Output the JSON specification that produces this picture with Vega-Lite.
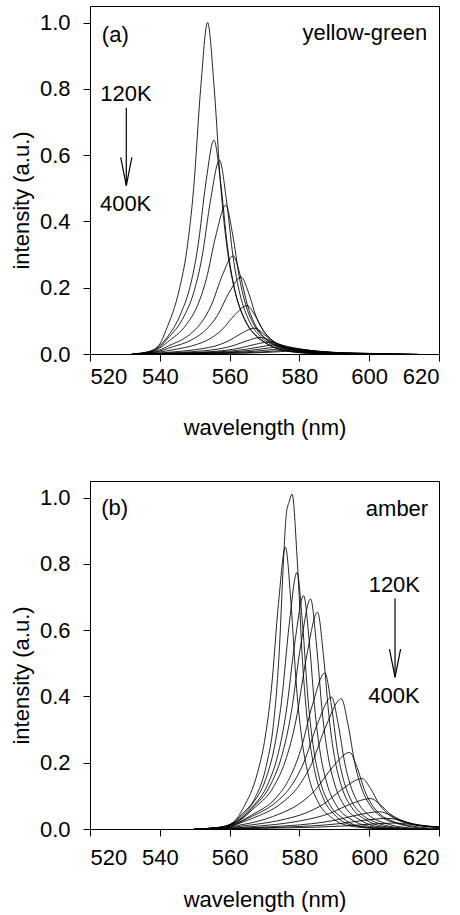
{
  "$schema": "https://vega.github.io/schema/vega-lite/v6.json",
  "padding": {"left": 9, "top": 5, "right": 5, "bottom": 5},
  "spacing": 41,
  "config": {
    "font": "Liberation Sans",
    "view": {"stroke": "black", "strokeWidth": 1},
    "axis": {"labelFont": "Liberation Sans", "titleFont": "Liberation Sans", "labelFontSize": 22, "titleFontSize": 22, "titleFontWeight": "normal", "labelColor": "black", "titleColor": "black", "domainColor": "black", "tickColor": "black", "tickSize": 7, "grid": false}
  },
  "datasets": {
    "a": [
      {"c":1,"x":532,"y":0},{"c":1,"x":537,"y":0.008},{"c":1,"x":540,"y":0.03},{"c":1,"x":541.7,"y":0.07},{"c":1,"x":545.7,"y":0.2},{"c":1,"x":547.7,"y":0.31},{"c":1,"x":549.7,"y":0.5},{"c":1,"x":551.7,"y":0.8},{"c":1,"x":553.7,"y":1},{"c":1,"x":555.6,"y":0.8},{"c":1,"x":557.5,"y":0.5},{"c":1,"x":559.4,"y":0.31},{"c":1,"x":561.3,"y":0.2},{"c":1,"x":565.1,"y":0.09},{"c":1,"x":568.9,"y":0.045},{"c":1,"x":575,"y":0.012},{"c":1,"x":585,"y":0},
      {"c":2,"x":532,"y":0},{"c":2,"x":537,"y":0.007},{"c":2,"x":540,"y":0.025},{"c":2,"x":541.7,"y":0.045},{"c":2,"x":546.3,"y":0.129},{"c":2,"x":548.6,"y":0.2},{"c":2,"x":550.9,"y":0.323},{"c":2,"x":553.2,"y":0.516},{"c":2,"x":555.5,"y":0.645},{"c":2,"x":557.45,"y":0.516},{"c":2,"x":559.4,"y":0.323},{"c":2,"x":561.35,"y":0.2},{"c":2,"x":563.3,"y":0.129},{"c":2,"x":567.2,"y":0.058},{"c":2,"x":571.1,"y":0.029},{"c":2,"x":577,"y":0.008},{"c":2,"x":588,"y":0},
      {"c":3,"x":532,"y":0},{"c":3,"x":537,"y":0.006},{"c":3,"x":540,"y":0.022},{"c":3,"x":542.1,"y":0.045},{"c":3,"x":547.1,"y":0.117},{"c":3,"x":549.6,"y":0.181},{"c":3,"x":552.1,"y":0.293},{"c":3,"x":554.6,"y":0.468},{"c":3,"x":557.1,"y":0.585},{"c":3,"x":559.05,"y":0.468},{"c":3,"x":561,"y":0.293},{"c":3,"x":562.95,"y":0.181},{"c":3,"x":564.9,"y":0.117},{"c":3,"x":568.8,"y":0.053},{"c":3,"x":572.7,"y":0.026},{"c":3,"x":579,"y":0.007},{"c":3,"x":590,"y":0},
      {"c":4,"x":532,"y":0},{"c":4,"x":537,"y":0.005},{"c":4,"x":540,"y":0.018},{"c":4,"x":542.1,"y":0.035},{"c":4,"x":547.7,"y":0.09},{"c":4,"x":550.5,"y":0.139},{"c":4,"x":553.3,"y":0.225},{"c":4,"x":556.1,"y":0.359},{"c":4,"x":558.9,"y":0.449},{"c":4,"x":560.9,"y":0.359},{"c":4,"x":562.9,"y":0.225},{"c":4,"x":564.9,"y":0.139},{"c":4,"x":566.9,"y":0.09},{"c":4,"x":570.9,"y":0.04},{"c":4,"x":574.9,"y":0.02},{"c":4,"x":581,"y":0.006},{"c":4,"x":591,"y":0},
      {"c":5,"x":532,"y":0},{"c":5,"x":537,"y":0.004},{"c":5,"x":540,"y":0.012},{"c":5,"x":542.4,"y":0.024},{"c":5,"x":548.6,"y":0.059},{"c":5,"x":551.7,"y":0.092},{"c":5,"x":554.8,"y":0.148},{"c":5,"x":557.9,"y":0.237},{"c":5,"x":561,"y":0.296},{"c":5,"x":563.05,"y":0.237},{"c":5,"x":565.1,"y":0.148},{"c":5,"x":567.15,"y":0.092},{"c":5,"x":569.2,"y":0.059},{"c":5,"x":573.3,"y":0.027},{"c":5,"x":577.4,"y":0.013},{"c":5,"x":584,"y":0.004},{"c":5,"x":593,"y":0},
      {"c":6,"x":532,"y":0},{"c":6,"x":537,"y":0.003},{"c":6,"x":540,"y":0.009},{"c":6,"x":542.9,"y":0.019},{"c":6,"x":549.7,"y":0.046},{"c":6,"x":553.1,"y":0.072},{"c":6,"x":556.5,"y":0.116},{"c":6,"x":559.9,"y":0.186},{"c":6,"x":563.3,"y":0.232},{"c":6,"x":565.4,"y":0.186},{"c":6,"x":567.5,"y":0.116},{"c":6,"x":569.6,"y":0.072},{"c":6,"x":571.7,"y":0.046},{"c":6,"x":575.9,"y":0.021},{"c":6,"x":580.1,"y":0.01},{"c":6,"x":587,"y":0.003},{"c":6,"x":595,"y":0},
      {"c":7,"x":532,"y":0},{"c":7,"x":536,"y":0.002},{"c":7,"x":540,"y":0.006},{"c":7,"x":543.4,"y":0.012},{"c":7,"x":550.6,"y":0.029},{"c":7,"x":554.2,"y":0.045},{"c":7,"x":557.8,"y":0.073},{"c":7,"x":561.4,"y":0.117},{"c":7,"x":565,"y":0.146},{"c":7,"x":567.25,"y":0.117},{"c":7,"x":569.5,"y":0.073},{"c":7,"x":571.75,"y":0.045},{"c":7,"x":574,"y":0.029},{"c":7,"x":578.5,"y":0.013},{"c":7,"x":583,"y":0.0066},{"c":7,"x":590,"y":0.002},{"c":7,"x":597,"y":0},
      {"c":8,"x":535,"y":0},{"c":8,"x":540,"y":0.003},{"c":8,"x":544.6,"y":0.007},{"c":8,"x":552.1,"y":0.016},{"c":8,"x":555.85,"y":0.024},{"c":8,"x":559.6,"y":0.039},{"c":8,"x":563.35,"y":0.062},{"c":8,"x":567.1,"y":0.078},{"c":8,"x":569.6,"y":0.062},{"c":8,"x":572.1,"y":0.039},{"c":8,"x":574.6,"y":0.024},{"c":8,"x":577.1,"y":0.016},{"c":8,"x":582.1,"y":0.007},{"c":8,"x":587.1,"y":0.0035},{"c":8,"x":597,"y":0},
      {"c":9,"x":535,"y":0},{"c":9,"x":540,"y":0.002},{"c":9,"x":545,"y":0.0045},{"c":9,"x":553,"y":0.01},{"c":9,"x":557,"y":0.0155},{"c":9,"x":561,"y":0.025},{"c":9,"x":565,"y":0.04},{"c":9,"x":569,"y":0.05},{"c":9,"x":571.75,"y":0.04},{"c":9,"x":574.5,"y":0.025},{"c":9,"x":577.25,"y":0.0155},{"c":9,"x":580,"y":0.01},{"c":9,"x":585.5,"y":0.0045},{"c":9,"x":591,"y":0.002},{"c":9,"x":600,"y":0},
      {"c":10,"x":535,"y":0},{"c":10,"x":540,"y":0.001},{"c":10,"x":546,"y":0.003},{"c":10,"x":554.5,"y":0.007},{"c":10,"x":558.75,"y":0.011},{"c":10,"x":563,"y":0.018},{"c":10,"x":567.25,"y":0.029},{"c":10,"x":571.5,"y":0.036},{"c":10,"x":574.5,"y":0.029},{"c":10,"x":577.5,"y":0.018},{"c":10,"x":580.5,"y":0.011},{"c":10,"x":583.5,"y":0.007},{"c":10,"x":589.5,"y":0.003},{"c":10,"x":595.5,"y":0.0015},{"c":10,"x":603,"y":0},
      {"c":11,"x":535,"y":0},{"c":11,"x":540,"y":0.001},{"c":11,"x":546.5,"y":0.0025},{"c":11,"x":555.5,"y":0.0056},{"c":11,"x":560,"y":0.0087},{"c":11,"x":564.5,"y":0.014},{"c":11,"x":569,"y":0.022},{"c":11,"x":573.5,"y":0.028},{"c":11,"x":576.75,"y":0.022},{"c":11,"x":580,"y":0.014},{"c":11,"x":583.25,"y":0.0087},{"c":11,"x":586.5,"y":0.0056},{"c":11,"x":593,"y":0.0025},{"c":11,"x":600,"y":0.001},{"c":11,"x":605,"y":0},
      {"c":12,"x":535,"y":0},{"c":12,"x":540,"y":0.0008},{"c":12,"x":547,"y":0.002},{"c":12,"x":556.5,"y":0.0044},{"c":12,"x":561.25,"y":0.0068},{"c":12,"x":566,"y":0.011},{"c":12,"x":570.75,"y":0.0176},{"c":12,"x":575.5,"y":0.022},{"c":12,"x":579,"y":0.0176},{"c":12,"x":582.5,"y":0.011},{"c":12,"x":586,"y":0.0068},{"c":12,"x":589.5,"y":0.0044},{"c":12,"x":596.5,"y":0.002},{"c":12,"x":603,"y":0.0008},{"c":12,"x":607,"y":0},
      {"c":13,"x":535,"y":0},{"c":13,"x":540,"y":0.0006},{"c":13,"x":547.5,"y":0.0015},{"c":13,"x":557.5,"y":0.0034},{"c":13,"x":562.5,"y":0.0053},{"c":13,"x":567.5,"y":0.0085},{"c":13,"x":572.5,"y":0.0136},{"c":13,"x":577.5,"y":0.017},{"c":13,"x":581.25,"y":0.0136},{"c":13,"x":585,"y":0.0085},{"c":13,"x":588.75,"y":0.0053},{"c":13,"x":592.5,"y":0.0034},{"c":13,"x":600,"y":0.0015},{"c":13,"x":606,"y":0.0005},{"c":13,"x":610,"y":0},
      {"c":14,"x":535,"y":0},{"c":14,"x":540,"y":0.0004},{"c":14,"x":549.5,"y":0.0012},{"c":14,"x":559.5,"y":0.0026},{"c":14,"x":564.5,"y":0.004},{"c":14,"x":569.5,"y":0.0065},{"c":14,"x":574.5,"y":0.0104},{"c":14,"x":579.5,"y":0.013},{"c":14,"x":583.5,"y":0.0104},{"c":14,"x":587.5,"y":0.0065},{"c":14,"x":591.5,"y":0.004},{"c":14,"x":595.5,"y":0.0026},{"c":14,"x":603.5,"y":0.0012},{"c":14,"x":608,"y":0.0004},{"c":14,"x":612,"y":0},
      {"c":15,"x":535,"y":0},{"c":15,"x":540,"y":0.0003},{"c":15,"x":551,"y":0.0009},{"c":15,"x":561,"y":0.002},{"c":15,"x":566,"y":0.0031},{"c":15,"x":571,"y":0.005},{"c":15,"x":576,"y":0.008},{"c":15,"x":581,"y":0.01},{"c":15,"x":585,"y":0.008},{"c":15,"x":589,"y":0.005},{"c":15,"x":593,"y":0.0031},{"c":15,"x":597,"y":0.002},{"c":15,"x":605,"y":0.0009},{"c":15,"x":610,"y":0.0003},{"c":15,"x":614,"y":0}
    ],
    "b": [
      {"c":1,"x":550,"y":0},{"c":1,"x":557,"y":0.005},{"c":1,"x":561,"y":0.018},{"c":1,"x":563.5,"y":0.045},{"c":1,"x":567.1,"y":0.09},{"c":1,"x":570.7,"y":0.2},{"c":1,"x":572.5,"y":0.31},{"c":1,"x":574.3,"y":0.55},{"c":1,"x":575.3,"y":0.78},{"c":1,"x":576.3,"y":0.955},{"c":1,"x":577,"y":0.985},{"c":1,"x":577.9,"y":1.01},{"c":1,"x":579.4,"y":0.808},{"c":1,"x":580.9,"y":0.505},{"c":1,"x":582.4,"y":0.313},{"c":1,"x":583.9,"y":0.202},{"c":1,"x":586.9,"y":0.091},{"c":1,"x":589.9,"y":0.045},{"c":1,"x":595,"y":0.012},{"c":1,"x":605,"y":0},
      {"c":2,"x":550,"y":0},{"c":2,"x":557,"y":0.005},{"c":2,"x":561,"y":0.02},{"c":2,"x":564,"y":0.065},{"c":2,"x":568,"y":0.17},{"c":2,"x":570,"y":0.264},{"c":2,"x":572,"y":0.425},{"c":2,"x":574,"y":0.68},{"c":2,"x":576,"y":0.85},{"c":2,"x":577.6,"y":0.68},{"c":2,"x":579.2,"y":0.425},{"c":2,"x":580.8,"y":0.264},{"c":2,"x":582.4,"y":0.17},{"c":2,"x":585.6,"y":0.0765},{"c":2,"x":588.8,"y":0.038},{"c":2,"x":594,"y":0.01},{"c":2,"x":604,"y":0},
      {"c":3,"x":550,"y":0},{"c":3,"x":557,"y":0.005},{"c":3,"x":561,"y":0.018},{"c":3,"x":563,"y":0.035},{"c":3,"x":566.1,"y":0.07},{"c":3,"x":570.5,"y":0.155},{"c":3,"x":572.7,"y":0.24},{"c":3,"x":574.9,"y":0.387},{"c":3,"x":577.1,"y":0.619},{"c":3,"x":579.3,"y":0.774},{"c":3,"x":580.9,"y":0.619},{"c":3,"x":582.5,"y":0.387},{"c":3,"x":584.1,"y":0.24},{"c":3,"x":585.7,"y":0.155},{"c":3,"x":588.9,"y":0.07},{"c":3,"x":592.1,"y":0.035},{"c":3,"x":597,"y":0.009},{"c":3,"x":607,"y":0},
      {"c":4,"x":550,"y":0},{"c":4,"x":557,"y":0.004},{"c":4,"x":561,"y":0.016},{"c":4,"x":563,"y":0.03},{"c":4,"x":566.2,"y":0.063},{"c":4,"x":571.2,"y":0.141},{"c":4,"x":573.7,"y":0.218},{"c":4,"x":576.2,"y":0.352},{"c":4,"x":578.7,"y":0.563},{"c":4,"x":581.2,"y":0.704},{"c":4,"x":582.85,"y":0.563},{"c":4,"x":584.5,"y":0.352},{"c":4,"x":586.15,"y":0.218},{"c":4,"x":587.8,"y":0.141},{"c":4,"x":591.1,"y":0.063},{"c":4,"x":594.4,"y":0.032},{"c":4,"x":600,"y":0.008},{"c":4,"x":609,"y":0},
      {"c":5,"x":550,"y":0},{"c":5,"x":557,"y":0.004},{"c":5,"x":561,"y":0.015},{"c":5,"x":563,"y":0.028},{"c":5,"x":566.4,"y":0.062},{"c":5,"x":572,"y":0.139},{"c":5,"x":574.8,"y":0.215},{"c":5,"x":577.6,"y":0.347},{"c":5,"x":580.4,"y":0.555},{"c":5,"x":583.2,"y":0.694},{"c":5,"x":584.9,"y":0.555},{"c":5,"x":586.6,"y":0.347},{"c":5,"x":588.3,"y":0.215},{"c":5,"x":590,"y":0.139},{"c":5,"x":593.4,"y":0.062},{"c":5,"x":596.8,"y":0.031},{"c":5,"x":602,"y":0.008},{"c":5,"x":611,"y":0},
      {"c":6,"x":550,"y":0},{"c":6,"x":557,"y":0.004},{"c":6,"x":561,"y":0.014},{"c":6,"x":563,"y":0.026},{"c":6,"x":566.6,"y":0.059},{"c":6,"x":572.8,"y":0.131},{"c":6,"x":575.9,"y":0.203},{"c":6,"x":579,"y":0.327},{"c":6,"x":582.1,"y":0.523},{"c":6,"x":585.2,"y":0.654},{"c":6,"x":586.9,"y":0.523},{"c":6,"x":588.6,"y":0.327},{"c":6,"x":590.3,"y":0.203},{"c":6,"x":592,"y":0.131},{"c":6,"x":595.4,"y":0.059},{"c":6,"x":598.8,"y":0.029},{"c":6,"x":604,"y":0.008},{"c":6,"x":613,"y":0},
      {"c":7,"x":550,"y":0},{"c":7,"x":557,"y":0.003},{"c":7,"x":561,"y":0.012},{"c":7,"x":563,"y":0.022},{"c":7,"x":566.3,"y":0.042},{"c":7,"x":573.3,"y":0.094},{"c":7,"x":576.8,"y":0.146},{"c":7,"x":580.3,"y":0.236},{"c":7,"x":583.8,"y":0.377},{"c":7,"x":587.3,"y":0.471},{"c":7,"x":589.1,"y":0.377},{"c":7,"x":590.9,"y":0.236},{"c":7,"x":592.7,"y":0.146},{"c":7,"x":594.5,"y":0.094},{"c":7,"x":598.1,"y":0.042},{"c":7,"x":601.7,"y":0.021},{"c":7,"x":607,"y":0.006},{"c":7,"x":615,"y":0},
      {"c":8,"x":550,"y":0},{"c":8,"x":557,"y":0.003},{"c":8,"x":561,"y":0.011},{"c":8,"x":563,"y":0.02},{"c":8,"x":565.2,"y":0.032},{"c":8,"x":573.2,"y":0.08},{"c":8,"x":577.2,"y":0.123},{"c":8,"x":581.2,"y":0.199},{"c":8,"x":585.2,"y":0.318},{"c":8,"x":589.2,"y":0.398},{"c":8,"x":591.1,"y":0.318},{"c":8,"x":593,"y":0.199},{"c":8,"x":594.9,"y":0.123},{"c":8,"x":596.8,"y":0.08},{"c":8,"x":600.6,"y":0.036},{"c":8,"x":604.4,"y":0.018},{"c":8,"x":610,"y":0.005},{"c":8,"x":617,"y":0},
      {"c":9,"x":550,"y":0},{"c":9,"x":557,"y":0.003},{"c":9,"x":561,"y":0.01},{"c":9,"x":563,"y":0.018},{"c":9,"x":566.5,"y":0.032},{"c":9,"x":575,"y":0.079},{"c":9,"x":579.25,"y":0.122},{"c":9,"x":583.5,"y":0.197},{"c":9,"x":587.75,"y":0.314},{"c":9,"x":592,"y":0.393},{"c":9,"x":593.95,"y":0.314},{"c":9,"x":595.9,"y":0.197},{"c":9,"x":597.85,"y":0.122},{"c":9,"x":599.8,"y":0.079},{"c":9,"x":603.7,"y":0.035},{"c":9,"x":607.6,"y":0.018},{"c":9,"x":613,"y":0.005},{"c":9,"x":619,"y":0},
      {"c":10,"x":550,"y":0},{"c":10,"x":557,"y":0.002},{"c":10,"x":561,"y":0.007},{"c":10,"x":563,"y":0.012},{"c":10,"x":566,"y":0.018},{"c":10,"x":574.4,"y":0.046},{"c":10,"x":579.4,"y":0.072},{"c":10,"x":584.4,"y":0.116},{"c":10,"x":589.4,"y":0.185},{"c":10,"x":594.4,"y":0.231},{"c":10,"x":596.55,"y":0.185},{"c":10,"x":598.7,"y":0.116},{"c":10,"x":600.85,"y":0.072},{"c":10,"x":603,"y":0.046},{"c":10,"x":607.3,"y":0.021},{"c":10,"x":611.6,"y":0.01},{"c":10,"x":617,"y":0.003},{"c":10,"x":620,"y":0.001},
      {"c":11,"x":550,"y":0},{"c":11,"x":557,"y":0.0015},{"c":11,"x":561,"y":0.005},{"c":11,"x":563,"y":0.008},{"c":11,"x":566,"y":0.012},{"c":11,"x":576,"y":0.03},{"c":11,"x":581.5,"y":0.047},{"c":11,"x":587,"y":0.076},{"c":11,"x":592.5,"y":0.122},{"c":11,"x":598,"y":0.152},{"c":11,"x":600.4,"y":0.122},{"c":11,"x":602.8,"y":0.076},{"c":11,"x":605.2,"y":0.047},{"c":11,"x":607.6,"y":0.03},{"c":11,"x":612.4,"y":0.014},{"c":11,"x":617.2,"y":0.007},{"c":11,"x":620,"y":0.004},
      {"c":12,"x":550,"y":0},{"c":12,"x":557,"y":0.001},{"c":12,"x":561,"y":0.003},{"c":12,"x":566,"y":0.007},{"c":12,"x":576.4,"y":0.018},{"c":12,"x":582.4,"y":0.029},{"c":12,"x":588.4,"y":0.046},{"c":12,"x":594.4,"y":0.074},{"c":12,"x":600.4,"y":0.092},{"c":12,"x":603.15,"y":0.074},{"c":12,"x":605.9,"y":0.046},{"c":12,"x":608.65,"y":0.029},{"c":12,"x":611.4,"y":0.018},{"c":12,"x":616.9,"y":0.008},{"c":12,"x":620,"y":0.005},
      {"c":13,"x":555,"y":0},{"c":13,"x":561,"y":0.002},{"c":13,"x":566,"y":0.004},{"c":13,"x":577,"y":0.01},{"c":13,"x":583.5,"y":0.016},{"c":13,"x":590,"y":0.026},{"c":13,"x":596.5,"y":0.042},{"c":13,"x":603,"y":0.052},{"c":13,"x":606,"y":0.042},{"c":13,"x":609,"y":0.026},{"c":13,"x":612,"y":0.016},{"c":13,"x":615,"y":0.01},{"c":13,"x":620,"y":0.006},
      {"c":14,"x":555,"y":0},{"c":14,"x":561,"y":0.001},{"c":14,"x":566,"y":0.0025},{"c":14,"x":577.4,"y":0.0064},{"c":14,"x":584.4,"y":0.01},{"c":14,"x":591.4,"y":0.016},{"c":14,"x":598.4,"y":0.026},{"c":14,"x":605.4,"y":0.032},{"c":14,"x":608.9,"y":0.026},{"c":14,"x":612.4,"y":0.016},{"c":14,"x":615.9,"y":0.01},{"c":14,"x":620,"y":0.0065},
      {"c":15,"x":555,"y":0},{"c":15,"x":560,"y":0.0005},{"c":15,"x":566,"y":0.0014},{"c":15,"x":577.5,"y":0.0036},{"c":15,"x":585,"y":0.0056},{"c":15,"x":592.5,"y":0.009},{"c":15,"x":600,"y":0.0144},{"c":15,"x":607.5,"y":0.018},{"c":15,"x":611.5,"y":0.0144},{"c":15,"x":615.5,"y":0.009},{"c":15,"x":620,"y":0.005}
    ]
  },
  "vconcat": [
    {
      "width": 349, "height": 348,
      "layer": [
        {
          "data": {"name": "a"},
          "mark": {"type": "line", "color": "black", "strokeWidth": 0.85, "interpolate": "monotone", "clip": true},
          "encoding": {
            "x": {"field": "x", "type": "quantitative", "scale": {"domain": [520, 620], "nice": false}, "axis": {"title": "wavelength (nm)", "values": [520,530,540,550,560,570,580,590,600,610,620], "labelExpr": "datum.value % 20 === 0 ? datum.label : ''", "labelPadding": 5, "titlePadding": 30}},
            "y": {"field": "y", "type": "quantitative", "scale": {"domain": [0, 1.05], "nice": false}, "axis": {"title": "intensity (a.u.)", "values": [0,0.2,0.4,0.6,0.8,1.0], "format": ".1f", "labelPadding": 13, "titlePadding": 6, "titleY": 194}},
            "detail": {"field": "c"}
          }
        },
        {
          "data": {"values": [{"g":"s","x":530.4,"y":0.743},{"g":"s","x":530.4,"y":0.508},{"g":"h","x":528.8,"y":0.593},{"g":"h","x":530.4,"y":0.508},{"g":"h","x":532.0,"y":0.593}]},
          "mark": {"type": "line", "color": "black", "strokeWidth": 1.2},
          "encoding": {"x": {"field": "x", "type": "quantitative"}, "y": {"field": "y", "type": "quantitative"}, "detail": {"field": "g"}}
        },
        {
          "data": {"values": [{"t":"(a)","x":523.4,"y":0.962}]},
          "mark": {"type": "text", "align": "left", "baseline": "middle", "fontSize": 22, "font": "Liberation Sans", "color": "black"},
          "encoding": {"x": {"field": "x", "type": "quantitative"}, "y": {"field": "y", "type": "quantitative"}, "text": {"field": "t"}}
        },
        {
          "data": {"values": [{"t":"yellow-green","x":616.6,"y":0.97}]},
          "mark": {"type": "text", "align": "right", "baseline": "middle", "fontSize": 22, "font": "Liberation Sans", "color": "black"},
          "encoding": {"x": {"field": "x", "type": "quantitative"}, "y": {"field": "y", "type": "quantitative"}, "text": {"field": "t"}}
        },
        {
          "data": {"values": [{"t":"120K","x":530.3,"y":0.784},{"t":"400K","x":530.2,"y":0.453}]},
          "mark": {"type": "text", "align": "center", "baseline": "middle", "fontSize": 22, "font": "Liberation Sans", "color": "black"},
          "encoding": {"x": {"field": "x", "type": "quantitative"}, "y": {"field": "y", "type": "quantitative"}, "text": {"field": "t"}}
        }
      ]
    },
    {
      "width": 349, "height": 348,
      "layer": [
        {
          "data": {"name": "b"},
          "mark": {"type": "line", "color": "black", "strokeWidth": 0.85, "interpolate": "monotone", "clip": true},
          "encoding": {
            "x": {"field": "x", "type": "quantitative", "scale": {"domain": [520, 620], "nice": false}, "axis": {"title": "wavelength (nm)", "values": [520,530,540,550,560,570,580,590,600,610,620], "labelExpr": "datum.value % 20 === 0 ? datum.label : ''", "labelPadding": 11, "titlePadding": 21}},
            "y": {"field": "y", "type": "quantitative", "scale": {"domain": [0, 1.05], "nice": false}, "axis": {"title": "intensity (a.u.)", "values": [0,0.2,0.4,0.6,0.8,1.0], "format": ".1f", "labelPadding": 13, "titlePadding": 6, "titleY": 194}},
            "detail": {"field": "c"}
          }
        },
        {
          "data": {"values": [{"g":"s","x":607.4,"y":0.696},{"g":"s","x":607.4,"y":0.458},{"g":"h","x":605.8,"y":0.543},{"g":"h","x":607.4,"y":0.458},{"g":"h","x":609.0,"y":0.543}]},
          "mark": {"type": "line", "color": "black", "strokeWidth": 1.2},
          "encoding": {"x": {"field": "x", "type": "quantitative"}, "y": {"field": "y", "type": "quantitative"}, "detail": {"field": "g"}}
        },
        {
          "data": {"values": [{"t":"(b)","x":523.2,"y":0.97}]},
          "mark": {"type": "text", "align": "left", "baseline": "middle", "fontSize": 22, "font": "Liberation Sans", "color": "black"},
          "encoding": {"x": {"field": "x", "type": "quantitative"}, "y": {"field": "y", "type": "quantitative"}, "text": {"field": "t"}}
        },
        {
          "data": {"values": [{"t":"amber","x":616.9,"y":0.967}]},
          "mark": {"type": "text", "align": "right", "baseline": "middle", "fontSize": 22, "font": "Liberation Sans", "color": "black"},
          "encoding": {"x": {"field": "x", "type": "quantitative"}, "y": {"field": "y", "type": "quantitative"}, "text": {"field": "t"}}
        },
        {
          "data": {"values": [{"t":"120K","x":607.2,"y":0.735},{"t":"400K","x":607.1,"y":0.402}]},
          "mark": {"type": "text", "align": "center", "baseline": "middle", "fontSize": 22, "font": "Liberation Sans", "color": "black"},
          "encoding": {"x": {"field": "x", "type": "quantitative"}, "y": {"field": "y", "type": "quantitative"}, "text": {"field": "t"}}
        }
      ]
    }
  ]
}
